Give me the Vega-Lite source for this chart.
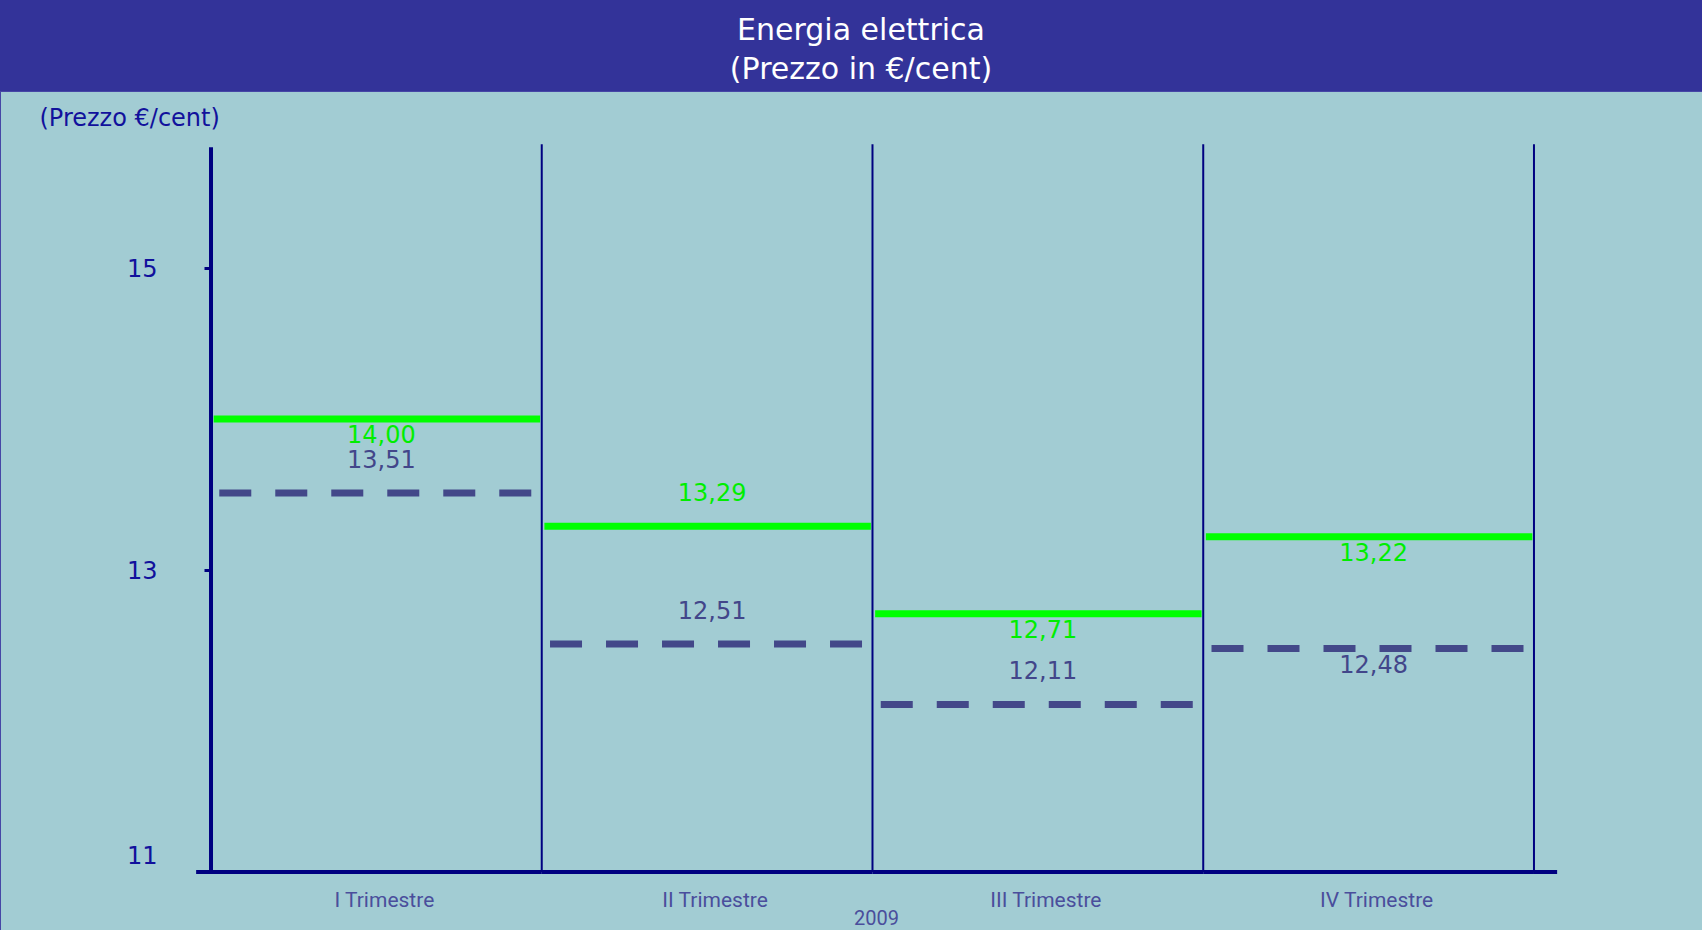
{
  "$schema": "https://vega.github.io/schema/vega-lite/v6.json",
  "width": 1702,
  "height": 839,
  "autosize": {"type": "none"},
  "padding": {"left": 0, "top": 91, "right": 0, "bottom": 0},
  "background": "#333399",
  "title": {
    "text": ["Energia elettrica", "(Prezzo in €/cent)"],
    "color": "#ffffff",
    "font": "DejaVu Sans",
    "fontSize": 30,
    "fontWeight": "normal",
    "anchor": "middle",
    "frame": "group",
    "offset": 51,
    "baseline": "alphabetic",
    "lineHeight": 39,
    "dx": 10,
    "dy": 69
  },
  "data": {
    "values": [
      {"q": "I Trimestre", "serie": "a", "value": 14.00},
      {"q": "II Trimestre", "serie": "a", "value": 13.29},
      {"q": "III Trimestre", "serie": "a", "value": 12.71},
      {"q": "IV Trimestre", "serie": "a", "value": 13.22},
      {"q": "I Trimestre", "serie": "b", "value": 13.51},
      {"q": "II Trimestre", "serie": "b", "value": 12.51},
      {"q": "III Trimestre", "serie": "b", "value": 12.11},
      {"q": "IV Trimestre", "serie": "b", "value": 12.48}
    ]
  },
  "transform": [
    {"calculate": "replace(format(datum.value, '.2f'), '.', ',')", "as": "lbl"}
  ],
  "layer": [
    {
      "transform": [{"filter": "datum.serie === 'a'"}],
      "mark": {"type": "rule", "color": "#000080", "strokeWidth": 2},
      "encoding": {
        "x": {"field": "q", "type": "nominal", "bandPosition": 1, "title": "2009",
              "scale": {"type": "band", "domain": ["I Trimestre", "II Trimestre", "III Trimestre", "IV Trimestre"], "paddingInner": 0, "paddingOuter": 0.573, "align": 0.5567}},
        "y": {"datum": 11, "type": "quantitative", "title": "(Prezzo €/cent)",
              "axis": {"values": [11, 13, 15], "format": "d", "labelOffset": {"condition": {"test": "datum.value === 11", "value": -16}, "value": 2}},
              "scale": {"domain": [10.616, 16.172], "nice": false, "zero": false}},
        "y2": {"datum": 15.82}
      }
    },
    {
      "transform": [{"filter": "datum.serie === 'a' && datum.q === 'I Trimestre'"}],
      "mark": {"type": "rule", "color": "#000080", "strokeWidth": 4},
      "encoding": {
        "x": {"field": "q", "type": "nominal", "bandPosition": 0, "title": "2009"},
        "y": {"datum": 10.99, "type": "quantitative", "title": "(Prezzo €/cent)"},
        "y2": {"datum": 15.8}
      }
    },
    {
      "transform": [{"filter": "datum.serie === 'a'"}],
      "mark": {"type": "rule", "color": "#000080", "strokeWidth": 4},
      "encoding": {
        "x": {"field": "q", "type": "nominal", "bandPosition": 0, "title": "2009"},
        "x2": {"field": "q", "bandPosition": 1},
        "y": {"datum": 11, "type": "quantitative", "title": "(Prezzo €/cent)"}
      }
    },
    {
      "transform": [{"filter": "datum.serie === 'a' && datum.q === 'I Trimestre'"}],
      "mark": {"type": "rule", "color": "#000080", "strokeWidth": 4},
      "encoding": {
        "x": {"field": "q", "type": "nominal", "bandPosition": -0.045, "title": "2009"},
        "x2": {"field": "q", "bandPosition": 0},
        "y": {"datum": 11, "type": "quantitative", "title": "(Prezzo €/cent)"}
      }
    },
    {
      "transform": [{"filter": "datum.serie === 'a' && datum.q === 'IV Trimestre'"}],
      "mark": {"type": "rule", "color": "#000080", "strokeWidth": 4},
      "encoding": {
        "x": {"field": "q", "type": "nominal", "bandPosition": 1, "title": "2009"},
        "x2": {"field": "q", "bandPosition": 1.07},
        "y": {"datum": 11, "type": "quantitative", "title": "(Prezzo €/cent)"}
      }
    },
    {
      "transform": [{"filter": "datum.serie === 'a'"}],
      "mark": {"type": "rule", "color": "#00ff00", "strokeWidth": 7},
      "encoding": {
        "x": {"field": "q", "type": "nominal", "bandPosition": 0.008, "title": "2009"},
        "x2": {"field": "q", "bandPosition": 0.995},
        "y": {"field": "value", "type": "quantitative", "title": "(Prezzo €/cent)"}
      }
    },
    {
      "transform": [{"filter": "datum.serie === 'b'"}],
      "mark": {"type": "rule", "color": "#434889", "strokeWidth": 7, "strokeDash": [32, 24]},
      "encoding": {
        "x": {"field": "q", "type": "nominal", "bandPosition": 0.025, "title": "2009"},
        "x2": {"field": "q", "bandPosition": 0.975},
        "y": {"field": "value", "type": "quantitative", "title": "(Prezzo €/cent)"}
      }
    },
    {
      "transform": [{"filter": "(datum.serie === 'a' && datum.q === 'II Trimestre') || (datum.serie === 'b' && datum.q !== 'IV Trimestre')"}],
      "mark": {"type": "text", "font": "DejaVu Sans", "fontSize": 24, "baseline": "middle", "align": "center", "dy": -32, "dx": 5},
      "encoding": {
        "x": {"field": "q", "type": "nominal", "title": "2009"},
        "y": {"field": "value", "type": "quantitative", "title": "(Prezzo €/cent)"},
        "text": {"field": "lbl"},
        "color": {"field": "serie", "type": "nominal", "legend": null, "scale": {"domain": ["a", "b"], "range": ["#00ee00", "#42468a"]}}
      }
    },
    {
      "transform": [{"filter": "!((datum.serie === 'a' && datum.q === 'II Trimestre') || (datum.serie === 'b' && datum.q !== 'IV Trimestre'))"}],
      "mark": {"type": "text", "font": "DejaVu Sans", "fontSize": 24, "baseline": "middle", "align": "center", "dy": 17, "dx": 5},
      "encoding": {
        "x": {"field": "q", "type": "nominal", "title": "2009"},
        "y": {"field": "value", "type": "quantitative", "title": "(Prezzo €/cent)"},
        "text": {"field": "lbl"},
        "color": {"field": "serie", "type": "nominal", "legend": null, "scale": {"domain": ["a", "b"], "range": ["#00ee00", "#42468a"]}}
      }
    }
  ],
  "config": {
    "view": {"fill": "#a2ccd3", "stroke": "#4646a6", "strokeWidth": 1},
    "axisY": {
      "offset": -211,
      "domain": false,
      "grid": false,
      "ticks": true,
      "tickSize": 7,
      "tickWidth": 3,
      "tickColor": "#000080",
      "labelFont": "DejaVu Sans",
      "labelFontSize": 24,
      "labelColor": "#11119c",
      "labelPadding": 47,
      "titleFont": "DejaVu Sans",
      "titleFontSize": 24,
      "titleFontWeight": "normal",
      "titleColor": "#11119c",
      "titleAngle": 0,
      "titleAlign": "left",
      "titleBaseline": "alphabetic",
      "titleX": -172,
      "titleY": 34
    },
    "axisX": {
      "offset": -58,
      "domain": false,
      "grid": false,
      "ticks": false,
      "labelAngle": 0,
      "labelFont": "Roboto",
      "labelFontSize": 21,
      "labelColor": "#4a4e9c",
      "labelPadding": 17,
      "labelOffset": 8,
      "titleFont": "Roboto",
      "titleFontSize": 20,
      "titleFontWeight": "normal",
      "titleColor": "#4a4e9c",
      "titleX": 876,
      "titleY": 52,
      "titleAlign": "center",
      "titleBaseline": "alphabetic"
    }
  }
}
